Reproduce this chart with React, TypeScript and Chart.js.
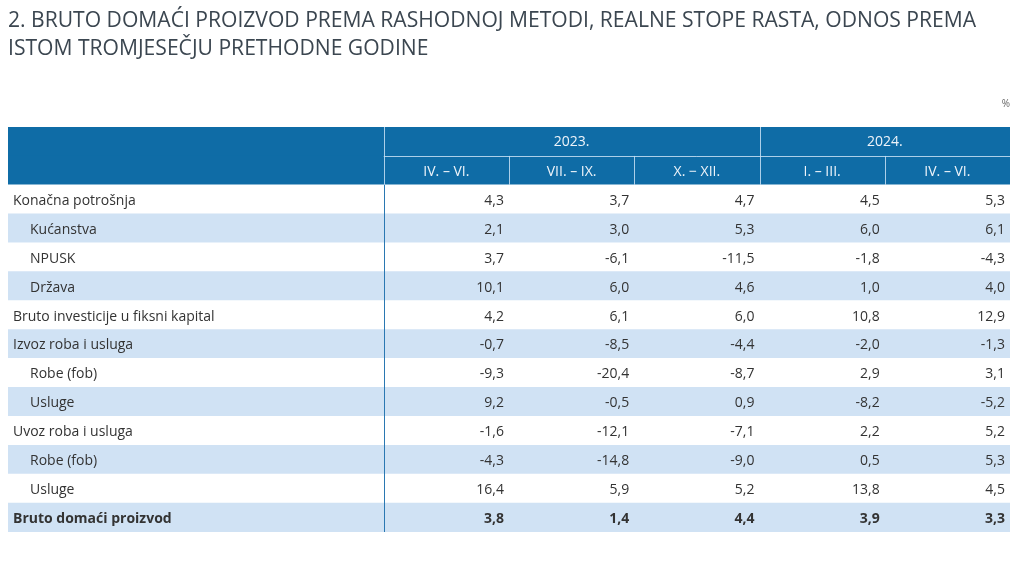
import { useEffect, useRef } from 'react';
import { Chart, registerables } from 'chart.js';

Chart.register(...registerables);

// ---- data ----
const titleLines = [
  '2. BRUTO DOMAĆI PROIZVOD PREMA RASHODNOJ METODI, REALNE STOPE RASTA, ODNOS PREMA',
  'ISTOM TROMJESEČJU PRETHODNE GODINE',
];
const unitLabel = '%';
const years = ['2023.', '2024.'];
const yearSpans = [3, 2];
const periods = ['IV. – VI.', 'VII. – IX.', 'X. − XII.', 'I. – III.', 'IV. – VI.'];
const rowLabels = [
  'Konačna potrošnja',
  'Kućanstva',
  'NPUSK',
  'Država',
  'Bruto investicije u fiksni kapital',
  'Izvoz roba i usluga',
  'Robe (fob)',
  'Usluge',
  'Uvoz roba i usluga',
  'Robe (fob)',
  'Usluge',
  'Bruto domaći proizvod',
];
const rowIndent = [0, 1, 1, 1, 0, 0, 1, 1, 0, 1, 1, 0];
const rowBold = [false, false, false, false, false, false, false, false, false, false, false, true];
const q2_2023 = [4.3, 2.1, 3.7, 10.1, 4.2, -0.7, -9.3, 9.2, -1.6, -4.3, 16.4, 3.8];
const q3_2023 = [3.7, 3.0, -6.1, 6.0, 6.1, -8.5, -20.4, -0.5, -12.1, -14.8, 5.9, 1.4];
const q4_2023 = [4.7, 5.3, -11.5, 4.6, 6.0, -4.4, -8.7, 0.9, -7.1, -9.0, 5.2, 4.4];
const q1_2024 = [4.5, 6.0, -1.8, 1.0, 10.8, -2.0, 2.9, -8.2, 2.2, 0.5, 13.8, 3.9];
const q2_2024 = [5.3, 6.1, -4.3, 4.0, 12.9, -1.3, 3.1, -5.2, 5.2, 5.3, 4.5, 3.3];
const columns = [q2_2023, q3_2023, q4_2023, q1_2024, q2_2024];

// ---- layout / style ----
const HEADER_ROWS = 2;
const LABEL_SPAN = 3; // label column width in data-column units
const FONT = '"Open Sans", "Noto Sans", sans-serif';
const HEADER_BLUE = '#0f6ca6';
const STRIPE = '#d0e2f4';
const TEXT = '#333333';
const HEADER_TEXT = '#eef4fa';

const fmt = (v: number) => v.toFixed(1).replace('.', ',');

const tablePlugin = {
  id: 'tablePlugin',
  afterDatasetsDraw(chart: any) {
    const { ctx, chartArea } = chart;
    const x = chart.scales.x;
    const y = chart.scales.y;
    const rh = y.getPixelForValue(1) - y.getPixelForValue(0);
    const rowTop = (i: number) => y.getPixelForValue(i) - rh / 2;
    const rowMid = (i: number) => y.getPixelForValue(i);
    const colX = (c: number) => x.getPixelForValue(c);
    const crisp = (v: number) => Math.round(v) + 0.5;

    ctx.save();
    // header separators
    ctx.lineWidth = 1;
    ctx.strokeStyle = 'rgba(200,225,245,0.85)';
    const hTop = rowTop(0);
    const hMid = rowTop(1);
    const hBot = rowTop(HEADER_ROWS);
    ctx.beginPath();
    let acc = LABEL_SPAN;
    const fullV = [LABEL_SPAN];
    yearSpans.forEach((s, i) => {
      acc += s;
      if (i < yearSpans.length - 1) fullV.push(acc);
    });
    fullV.forEach((c) => {
      ctx.moveTo(crisp(colX(c)), hTop);
      ctx.lineTo(crisp(colX(c)), hBot);
    });
    periods.forEach((_, i) => {
      const c = LABEL_SPAN + i;
      if (i > 0 && !fullV.includes(c)) {
        ctx.moveTo(crisp(colX(c)), hMid);
        ctx.lineTo(crisp(colX(c)), hBot);
      }
    });
    ctx.moveTo(colX(LABEL_SPAN), crisp(hMid));
    ctx.lineTo(chartArea.right, crisp(hMid));
    ctx.stroke();

    // body vertical line
    ctx.strokeStyle = '#2a78b2';
    ctx.beginPath();
    ctx.moveTo(crisp(colX(LABEL_SPAN)), hBot);
    ctx.lineTo(crisp(colX(LABEL_SPAN)), chartArea.bottom);
    ctx.stroke();

    // header text
    ctx.fillStyle = HEADER_TEXT;
    ctx.textAlign = 'center';
    ctx.textBaseline = 'middle';
    ctx.font = `14px ${FONT}`;
    let start = LABEL_SPAN;
    years.forEach((yr, i) => {
      const end = start + yearSpans[i];
      ctx.fillText(yr, (colX(start) + colX(end)) / 2, rowMid(0) + 1);
      start = end;
    });
    periods.forEach((p, i) => {
      const c = LABEL_SPAN + i;
      ctx.fillText(p, (colX(c) + colX(c + 1)) / 2, rowMid(1) + 1.5);
    });

    // body
    ctx.fillStyle = TEXT;
    rowLabels.forEach((lab, r) => {
      const yy = rowMid(HEADER_ROWS + r) + 1.5;
      ctx.font = `${rowBold[r] ? 'bold ' : ''}14px ${FONT}`;
      ctx.textAlign = 'left';
      ctx.fillText(lab, colX(0) + 5 + rowIndent[r] * 17, yy);
      ctx.textAlign = 'right';
      columns.forEach((col, c) => {
        ctx.fillText(fmt(col[r]), colX(LABEL_SPAN + c + 1) - 5, yy);
      });
    });
    ctx.restore();
  },
};

export default function App() {
  const ref = useRef<HTMLCanvasElement | null>(null);
  useEffect(() => {
    if (!ref.current) return;
    const totalCols = LABEL_SPAN + periods.length;
    const yLabels = ['hdr-years', 'hdr-periods', ...rowLabels.map((l, i) => `${i}:${l}`)];
    const extent = yLabels.map(() => [0, totalCols]);
    const colors = yLabels.map((_, i) =>
      i < HEADER_ROWS ? HEADER_BLUE : (i - HEADER_ROWS) % 2 === 1 ? STRIPE : '#ffffff'
    );
    const chart = new Chart(ref.current, {
      type: 'bar',
      data: {
        labels: yLabels,
        datasets: [
          {
            data: extent as any,
            backgroundColor: colors,
            borderWidth: 0,
            barPercentage: 1,
            categoryPercentage: 1,
          },
        ],
      },
      options: {
        indexAxis: 'y',
        responsive: false,
        animation: false,
        events: [],
        layout: { padding: { left: 8, right: 14, top: 0, bottom: 44 } },
        scales: {
          x: { type: 'linear', min: 0, max: totalCols, display: false },
          y: { type: 'category', display: false, offset: true },
        },
        plugins: {
          legend: { display: false },
          tooltip: { enabled: false },
          title: {
            display: true,
            text: titleLines,
            align: 'start',
            color: '#3b4650',
            font: { family: FONT, size: 21.1, weight: 'normal', lineHeight: 28 / 21.1 },
            padding: { top: 7, bottom: 0 },
          },
          subtitle: {
            display: true,
            text: unitLabel,
            align: 'end',
            color: '#666666',
            font: { family: FONT, size: 10, lineHeight: 1.2 },
            padding: { top: 35, bottom: 17 },
          },
        },
      },
      plugins: [tablePlugin],
    });
    return () => chart.destroy();
  }, []);
  return (
    <div style={{ position: 'fixed', left: 0, top: 0, width: 1024, height: 576, background: '#fff' }}>
      <canvas ref={ref} width={1024} height={576} style={{ display: 'block' }} />
    </div>
  );
}
